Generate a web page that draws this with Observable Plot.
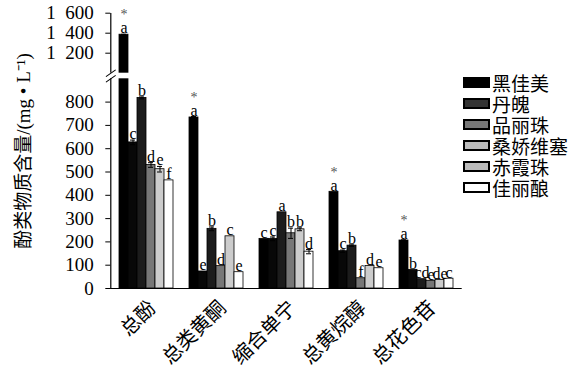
<!DOCTYPE html>
<html><head><meta charset="utf-8">
<script src="https://cdn.jsdelivr.net/npm/d3@7"></script>
<script src="https://cdn.jsdelivr.net/npm/@observablehq/plot@0.6"></script>
<style>
body{margin:0;background:#fff;}
#wrap{position:relative;width:582px;height:376px;overflow:hidden;}
#legend{position:absolute;left:464px;top:72px;}
#legend *{overflow:visible !important;text-overflow:clip !important;}
#legend div{font-family:"Noto Sans CJK SC",sans-serif !important;font-size:19px !important;line-height:21px !important;color:#000;margin:0 !important;padding:0 !important;}
#legend svg{margin-right:3px !important;}
#legend svg rect{stroke:#000;stroke-width:2px;}
</style></head><body><div id="wrap"></div>
<script>
const groups = ["总酚","总类黄酮","缩合单宁","总黄烷醇","总花色苷"];
const cultivars = ["黑佳美","丹魄","品丽珠","桑娇维塞","赤霞珠","佳丽酿"];
const barColors = ["#000000","#080808","#1c1c1c","#777777","#cccccc","#ffffff"];
const legendColors = ["#000000","#333333","#777777","#bbbbbb","#bbbbbb","#ffffff"];

// values per cultivar across groups (mg/L)
const valHeijiamei = [1385, 734, 213, 415, 206];
const valDanpo     = [627, 73, 213, 160, 80];
const valPinlizhu  = [818, 256, 327, 184, 40];
const valSangjiao  = [530, 96, 237, 44, 33];
const valChixia    = [512, 224, 254, 97, 37];
const valJiali     = [464, 70, 158, 87, 42];

const errHeijiamei = [4, 4, 0, 0, 3];
const errDanpo     = [10, 0, 8, 5, 0];
const errPinlizhu  = [4, 8, 0, 3, 0];
const errSangjiao  = [10, 0, 22, 0, 0];
const errChixia    = [12, 0, 6, 0, 0];
const errJiali     = [0, 0, 9, 0, 0];

const letHeijiamei = ["a","a","c","a","a"];
const letDanpo     = ["c","e","c","c","b"];
const letPinlizhu  = ["b","b","a","b","cd"];
const letSangjiao  = ["d","d","b","f","e"];
const letChixia    = ["e","c","b","d","de"];
const letJiali     = ["f","e","d","e","c"];

const starHeijiamei = [true, true, false, true, true];

const yTicks = [0,100,200,300,400,500,600,700,800,1200,1400,1600];
const yBreak = [900, 1000];

const vals = [valHeijiamei,valDanpo,valPinlizhu,valSangjiao,valChixia,valJiali];
const errs = [errHeijiamei,errDanpo,errPinlizhu,errSangjiao,errChixia,errJiali];
const lets = [letHeijiamei,letDanpo,letPinlizhu,letSangjiao,letChixia,letJiali];

const rows = [];
cultivars.forEach((c, i) => groups.forEach((g, j) => rows.push({
  group: g, cultivar: c, value: vals[i][j], err: errs[i][j], letter: lets[i][j],
  star: i === 0 && starHeijiamei[j]
})));
const errRows = rows.filter(d => d.err > 0);

const fmt = d => d >= 1000 ? (Math.floor(d/1000) + "\u2002" + String(d % 1000).padStart(3,"0")) : String(d);
const axisShift = -7.7;

const plot = Plot.plot({
  width: 582, height: 376,
  marginLeft: 109, marginRight: 118, marginTop: 13, marginBottom: 88,
  style: {fontFamily: "'Liberation Serif', 'Noto Sans CJK SC', serif", fontSize: "19px", background: "white", color: "#000"},
  fx: {domain: groups, paddingInner: 0.193, paddingOuter: 0.109, label: null, axis: null},
  x: {domain: cultivars, padding: 0, axis: null},
  y: {type: "linear", domain: [0, yBreak[0], yBreak[1], 1600], range: [288, 78.3, 72.7, 12.7], axis: null},
  color: {domain: cultivars, range: barColors},
  marks: [
    Plot.frame({anchor: "left", facetAnchor: "left", dx: axisShift, strokeWidth: 1.2}),
    Plot.barY(rows, {fx: "group", x: "cultivar", y: "value", fill: "cultivar", stroke: "#000", strokeWidth: 0.8}),
    Plot.ruleX(errRows, {fx: "group", x: "cultivar", y1: d => d.value - d.err, y2: d => d.value + d.err, stroke: "#000"}),
    Plot.tickY(errRows, {fx: "group", x: "cultivar", y: d => d.value + d.err, insetLeft: 2, insetRight: 2, stroke: "#000"}),
    Plot.tickY(errRows, {fx: "group", x: "cultivar", y: d => d.value - d.err, insetLeft: 2, insetRight: 2, stroke: "#000"}),
    Plot.text(rows, {fx: "group", x: "cultivar", y: d => d.value + d.err, text: "letter", dy: -1, lineAnchor: "bottom", fontSize: 16, fill: "#000"}),
    Plot.text(rows.filter(d => d.star), {fx: "group", x: "cultivar", y: d => d.value + d.err, text: () => "*", dy: -15, lineAnchor: "bottom", fontSize: 14, fill: "#555"}),
    Plot.rect([yBreak], {y1: d => d[0], y2: d => d[1], fill: "white", insetLeft: -9, insetRight: -7}),
    Plot.vector(yBreak, {y: d => d, frameAnchor: "left", facetAnchor: "left", dx: axisShift, length: 11, rotate: 55, anchor: "middle", stroke: "#000", strokeWidth: 1,
      shape: {draw(ctx, l) { ctx.moveTo(0, 0); ctx.lineTo(0, -l); }}}),
    Plot.ruleY([0], {strokeWidth: 1.2, insetLeft: -7.7, insetRight: -7.7}),
    Plot.axisY({ticks: yTicks, tickFormat: fmt, tickSize: 5, tickPadding: 12, fontSize: 19, dx: axisShift,
      label: "酚类物质含量/(mg • L⁻¹)", labelArrow: "none", labelAnchor: "center", labelOffset: 102}),
    Plot.axisFx({anchor: "bottom", tickRotate: -45, tickSize: 0, tickPadding: 16, fontSize: 20, label: null, fontFamily: "'Noto Sans CJK SC', sans-serif", dx: 6})
  ]
});
const wrap = document.getElementById("wrap");
wrap.appendChild(plot);
const leg = Plot.legend({color: {type: "ordinal", domain: cultivars, range: legendColors}, legend: "swatches", columns: 1, swatchWidth: 25, swatchHeight: 9});
const ld = document.createElement("div");
ld.id = "legend";
ld.appendChild(leg);
wrap.appendChild(ld);
</script></body></html>
